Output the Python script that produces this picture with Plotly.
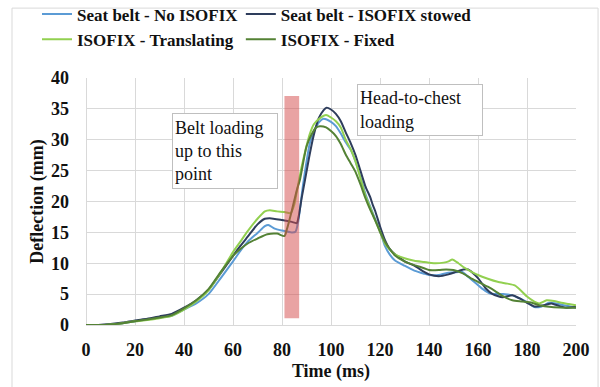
import plotly.graph_objects as go

# ---- data ----
t_noiso = [0, 5, 10, 15, 20, 25, 30, 35, 40, 45, 50, 55, 60, 63, 66, 70, 73, 74.4, 77, 80, 84, 85.5,
           86.5, 88.7, 91.4, 94, 96, 97, 100, 102, 104, 106, 108, 110, 112, 114, 116, 118, 120, 122,
           124, 126, 130, 134, 138, 140, 144, 147, 150, 153.6, 156, 159, 162, 165, 168, 171, 174, 177,
           180, 183, 186, 189, 192, 195, 200]
d_noiso = [0, 0, 0.1, 0.3, 0.6, 0.9, 1.2, 1.5, 2.5, 3.5, 5.0, 7.6, 10.3, 12.0, 13.5, 14.9, 16.0, 16.2,
           15.6, 15.3, 15.0, 15.1, 16.5, 23.0, 29.5, 32.2, 33.2, 33.4, 32.9, 32.2, 31.0, 29.6, 28.4,
           26.5, 24.0, 21.3, 19.2, 17.2, 15.3, 12.8, 11.4, 10.5, 9.6, 8.8, 8.3, 8.1, 8.1, 8.4, 8.5, 8.6,
           7.8, 6.8, 5.8, 5.1, 5.0, 5.0, 4.8, 4.3, 3.7, 2.9, 3.0, 3.6, 3.5, 3.2, 2.8]

t_stowed = [0, 5, 10, 15, 20, 25, 30, 35, 40, 45, 50, 55, 60, 63, 66, 70, 73, 75, 80, 84, 86, 87, 88,
            89.4, 91, 92.8, 95, 97, 98.2, 100, 102, 104, 106, 108, 110, 112, 114, 116, 117, 118, 120,
            122, 124, 126, 128, 130, 134, 138, 140, 144, 148, 151, 154, 156, 158, 160, 163, 166, 170,
            174, 177, 180, 183, 187, 190, 193, 196, 200]
d_stowed = [0, 0, 0.15, 0.4, 0.75, 1.0, 1.4, 1.8, 2.8, 4.0, 5.7, 8.4, 11.2, 12.8, 14.3, 16.3, 17.2,
            17.3, 17.0, 16.7, 16.5, 18.0, 20.5, 23.5, 27.0, 30.5, 33.5, 34.8, 35.2, 34.9, 34.2, 33.0,
            31.2, 29.5, 27.5, 25.0, 22.5, 20.7, 19.5, 18.5, 16.0, 13.8, 12.3, 11.5, 10.9, 10.3, 9.6,
            8.6, 8.2, 7.9, 8.2, 8.6, 9.0, 9.0, 8.4, 7.6, 6.0, 5.0, 4.5, 4.8, 4.3, 3.6, 3.0, 3.2, 3.5,
            3.1, 2.8, 2.9]

t_trans = [0, 5, 10, 15, 20, 25, 30, 35, 40, 45, 50, 55, 60, 63, 66, 70, 73, 75, 78, 81, 83.5, 85, 86,
           88, 90, 91.4, 93, 95.5, 98, 100, 102, 104, 106, 108, 110, 112, 114, 116, 118, 120, 122, 124,
           126, 130, 134, 138, 142, 146, 148, 149.5, 152, 154, 157, 160, 164, 168, 172, 175, 178, 180,
           183, 185, 188, 191, 194, 197, 200]
d_trans = [0, 0, 0.1, 0.3, 0.6, 0.8, 1.1, 1.5, 2.5, 3.8, 5.6, 8.5, 11.8, 13.5, 15.2, 17.2, 18.4, 18.6,
           18.4, 18.3, 18.1, 19.5, 21.5, 25.6, 29.0, 31.0, 32.5, 33.5, 34.0, 33.6, 33.0, 32.0, 30.0,
           28.5, 26.5, 23.8, 21.0, 19.0, 17.0, 15.1, 13.2, 12.2, 11.5, 10.8, 10.4, 10.2, 10.0, 10.1,
           10.3, 10.6, 10.0, 9.4, 8.7, 8.1, 7.5, 7.0, 6.7, 6.4, 5.4, 4.6, 3.8, 3.5, 4.0, 3.9, 3.6, 3.4,
           3.2]

t_fixed = [0, 5, 10, 15, 20, 25, 30, 35, 40, 45, 50, 55, 60, 63, 66, 70, 74, 78, 81, 82, 84, 86, 87.3,
           90, 92, 94, 95.5, 98, 100, 102, 104, 106, 108, 110, 112, 114, 116, 118, 120, 122, 124, 126,
           130, 134, 138, 140, 144, 147, 150, 153.6, 157, 160, 164, 167, 170, 174, 178, 182, 185, 190,
           195, 200]
d_fixed = [0, 0, 0.1, 0.3, 0.6, 0.9, 1.2, 1.6, 2.7, 4.0, 5.8, 8.6, 11.2, 12.3, 13.2, 14.0, 14.7, 14.8,
           14.4, 15.5, 18.5, 21.8, 23.5, 28.9, 30.8, 32.0, 32.2, 32.0, 31.4, 30.6, 29.3, 27.6, 26.2,
           24.8, 22.8, 20.6, 18.7, 17.0, 15.1, 13.5, 12.3, 11.3, 10.3, 9.7, 9.2, 8.9, 8.9, 9.0, 8.9,
           8.4, 7.6, 7.0, 6.2, 5.5, 4.7, 4.0, 3.8, 3.6, 3.2, 2.9, 2.8, 2.8]

series_names = ["Seat belt - No ISOFIX", "Seat belt - ISOFIX stowed",
                "ISOFIX - Translating", "ISOFIX - Fixed"]
series_colors = ["#5B9BD5", "#2E3D5C", "#92D050", "#548235"]
series_legend = ["legend", "legend2", "legend", "legend2"]   # left / right legend column

x_ticks = [0, 20, 40, 60, 80, 100, 120, 140, 160, 180, 200]
y_ticks = [0, 5, 10, 15, 20, 25, 30, 35, 40]

band_start, band_end = 81, 87      # "belt loading" marker band (ms)
band_low, band_high = 1.1, 37.1    # (mm)

SERIF = "Liberation Serif"

fig = go.Figure()
for tx, dy, name, col, lg in zip([t_noiso, t_stowed, t_trans, t_fixed],
                                 [d_noiso, d_stowed, d_trans, d_fixed],
                                 series_names, series_colors, series_legend):
    fig.add_trace(go.Scatter(x=tx, y=dy, mode="lines", name=name, legend=lg,
                             line=dict(color=col, width=2, shape="spline", smoothing=0.6)))

# highlighted band
fig.add_shape(type="rect", xref="x", yref="y", x0=band_start, x1=band_end,
              y0=band_low, y1=band_high, fillcolor="rgba(211,71,71,0.5)",
              line=dict(width=0), layer="above")

# outer frame
fig.add_shape(type="rect", xref="paper", yref="paper", x0=-0.151, x1=1.045,
              y0=-0.3, y1=1.283, line=dict(color="#D9D9D9", width=1),
              fillcolor="rgba(0,0,0,0)", layer="below")

fig.add_annotation(x=35, y=34.4, xref="x", yref="y", xanchor="left", yanchor="top",
                   text="Belt loading<br>up to this<br>point", showarrow=False, align="left",
                   font=dict(family=SERIF, size=18, color="#111111"),
                   bgcolor="white", bordercolor="#BFBFBF", borderwidth=1, borderpad=2,
                   width=100, height=70)
fig.add_annotation(x=110.7, y=39.0, xref="x", yref="y", xanchor="left", yanchor="top",
                   text="Head-to-chest<br>loading", showarrow=False, align="left",
                   font=dict(family=SERIF, size=18, color="#111111"),
                   bgcolor="white", bordercolor="#BFBFBF", borderwidth=1, borderpad=2,
                   width=120, height=46)

axis_font = dict(family=SERIF, size=18, color="#111111", weight="bold")
fig.update_xaxes(range=[0, 200], tickvals=x_ticks, showgrid=True, gridcolor="#D9D9D9",
                 gridwidth=1, zeroline=True, zerolinecolor="#D9D9D9", zerolinewidth=1,
                 showline=False, ticks="", tickfont=axis_font, ticklabelstandoff=12,
                 title=dict(text="Time (ms)", font=axis_font, standoff=5))
fig.update_yaxes(range=[0, 40], tickvals=y_ticks, showgrid=True, gridcolor="#D9D9D9",
                 gridwidth=1, zeroline=True, zerolinecolor="#D9D9D9", zerolinewidth=1,
                 showline=False, ticks="", tickfont=axis_font, ticklabelstandoff=16,
                 title=dict(text="Deflection (mm)", font=axis_font, standoff=2))

legend_common = dict(orientation="v", yanchor="top", xanchor="left", traceorder="normal",
                     font=dict(family=SERIF, size=17, color="#111111", weight="bold"),
                     itemwidth=30, tracegroupgap=0, bgcolor="rgba(0,0,0,0)")

fig.update_layout(
    width=600, height=387,
    margin=dict(l=86, r=24, t=78, b=62, autoexpand=False),
    paper_bgcolor="white", plot_bgcolor="white",
    font=dict(family=SERIF),
    showlegend=True,
    legend=dict(x=-0.1, y=1.33, **legend_common),
    legend2=dict(x=0.316, y=1.33, **legend_common),
)

fig.write_html("out.html", config={"displayModeBar": False},
               post_script="document.body.style.margin='0';document.body.style.padding='0';")
